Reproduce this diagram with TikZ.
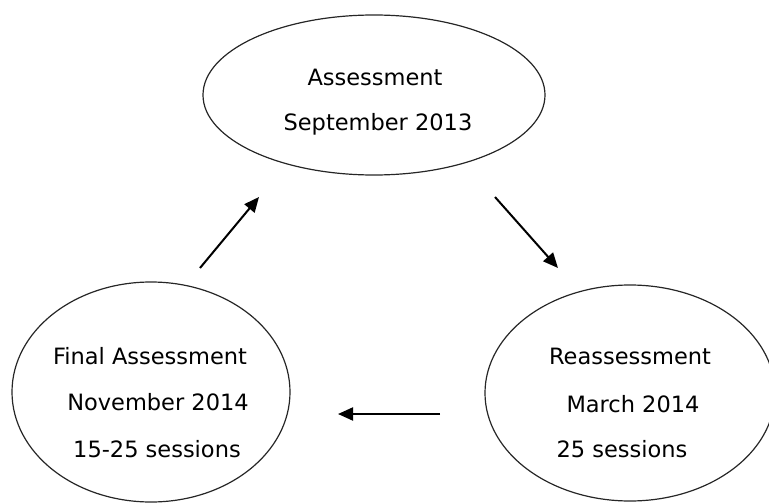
\documentclass[tikz,border=0pt]{standalone}
\usepackage{fontspec}
\setmainfont{DejaVu Sans}
\usetikzlibrary{arrows.meta,shapes.geometric}
\tikzset{
  bubble/.style={ellipse, draw=black!85, line width=1.2pt, inner sep=0pt},
  txt/.style={anchor=base, inner sep=0pt, font=\fontsize{22.5}{27}\selectfont},
  flow/.style={line width=2pt, -{Triangle[length=15pt,width=13pt]}}
}
\begin{document}
\begin{tikzpicture}[x=1pt,y=-1pt]
	\useasboundingbox (0,0) rectangle (769,503);
	% the three stages
	\node[bubble, minimum width=342pt, minimum height=160pt] (assess) at (374,95) {};
	\node[bubble, minimum width=278pt, minimum height=220pt] (final) at (151,392) {};
	\node[bubble, minimum width=290pt, minimum height=216pt] (reassess) at (630,393) {};
	\node[txt] (assess-a) at (375,85) {Assessment};
	\node[txt] (assess-b) at (378,131) {September 2013};
	\node[txt] (final-a) at (150,364) {Final Assessment};
	\node[txt] (final-b) at (158,410) {November 2014};
	\node[txt] (final-c) at (157,457) {15-25 sessions};
	\node[txt] (reassess-a) at (630,364) {Reassessment};
	\node[txt] (reassess-b) at (633,412) {March 2014};
	\node[txt] (reassess-c) at (622,457) {25 sessions};
	% arrows between them
	\coordinate (up-s) at (200,268);
	\coordinate (up-e) at (259,197);
	\coordinate (down-s) at (495,197);
	\coordinate (down-e) at (558,268);
	\coordinate (back-s) at (440,414);
	\coordinate (back-e) at (338,414);
	\draw[flow] (up-s) -- (up-e);
	\draw[flow] (down-s) -- (down-e);
	\draw[flow] (back-s) -- (back-e);
\end{tikzpicture}
\end{document}
